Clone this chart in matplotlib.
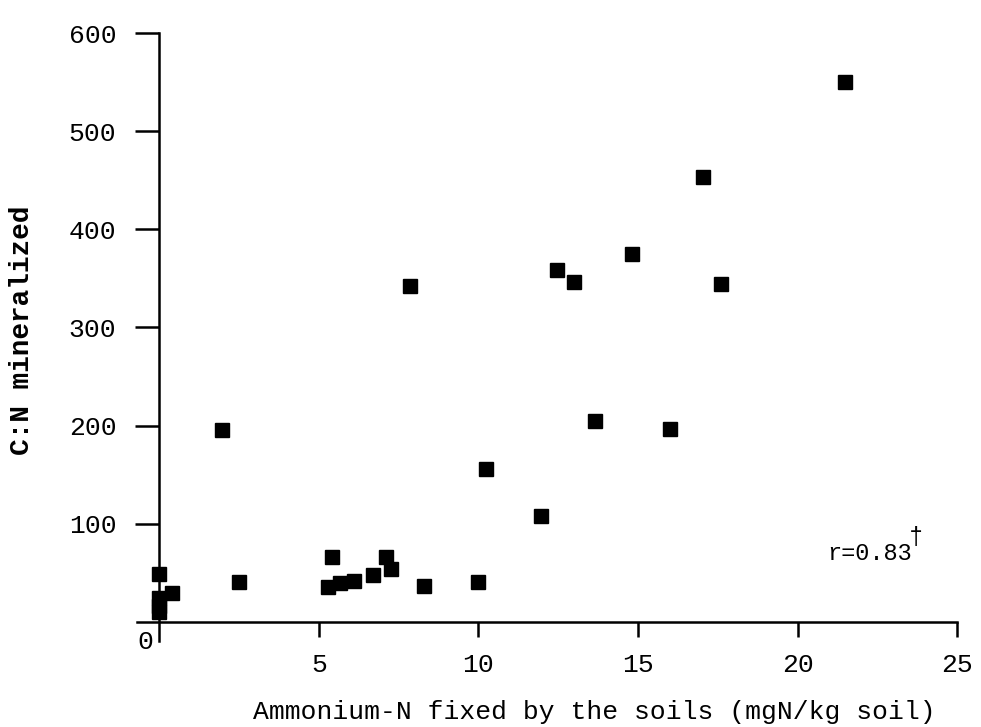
import matplotlib
matplotlib.use("Agg")
import matplotlib.pyplot as plt

matplotlib.rcParams["font.family"] = "Liberation Mono"

# Ammonium-N fixed (mgN/kg soil) vs C:N mineralized
nh4_fixed = [21.5, 17.05, 14.8, 12.45, 13.0, 17.6, 7.85, 1.95, 13.65, 16.0,
             10.25, 11.95, 5.4, 7.1, 7.25, 6.7, 6.1, 5.65, 5.3, 2.5,
             0.4, 0.0, 0.0, 0.0, 0.0, 8.3, 10.0]
cn_mineralized = [550, 453, 375, 359, 346, 344, 342, 196, 205, 197,
                  156, 108, 66, 66, 54, 48, 42, 40, 36, 41,
                  30, 49, 24, 16, 10, 37, 41]

x_ticks = [5, 10, 15, 20, 25]
y_ticks = [100, 200, 300, 400, 500, 600]

fig = plt.figure(figsize=(9.81, 7.27), dpi=100)
ax = fig.add_axes([0.1397, 0.1188, 0.8359, 0.8358])

ax.plot(nh4_fixed, cn_mineralized, linestyle="none", marker="s",
        markersize=10.5, color="black")

ax.set_xlim(-0.7, 25)
ax.set_ylim(-19, 600)

# axes cross at the origin, like the typed original
for side in ["top", "right"]:
    ax.spines[side].set_visible(False)
ax.spines["left"].set_position(("data", 0))
ax.spines["bottom"].set_position(("data", 0))
ax.spines["left"].set_linewidth(1.8)
ax.spines["bottom"].set_linewidth(1.8)

ax.set_xticks(x_ticks)
ax.set_yticks(y_ticks)
ax.tick_params(axis="x", direction="out", length=11, width=1.8, pad=11, labelsize=19)
ax.tick_params(axis="y", direction="out", length=17, width=1.8, pad=14, labelsize=19)

ax.text(-0.45, -8, "0", ha="center", va="top", fontsize=19)

fig.text(0.6055, 0.02, "Ammonium-N fixed by the soils (mgN/kg soil)",
         ha="center", va="center", fontsize=19)
fig.text(0.022, 0.546, "C:N mineralized", rotation=90, ha="center", va="center",
         fontsize=20, fontweight="bold")

ax.text(20.94, 70, "r=0.83", ha="left", va="center", fontsize=17)
ax.text(23.5, 86, "\u2020", ha="left", va="center", fontsize=17)

fig.savefig("out.png", dpi=100)
